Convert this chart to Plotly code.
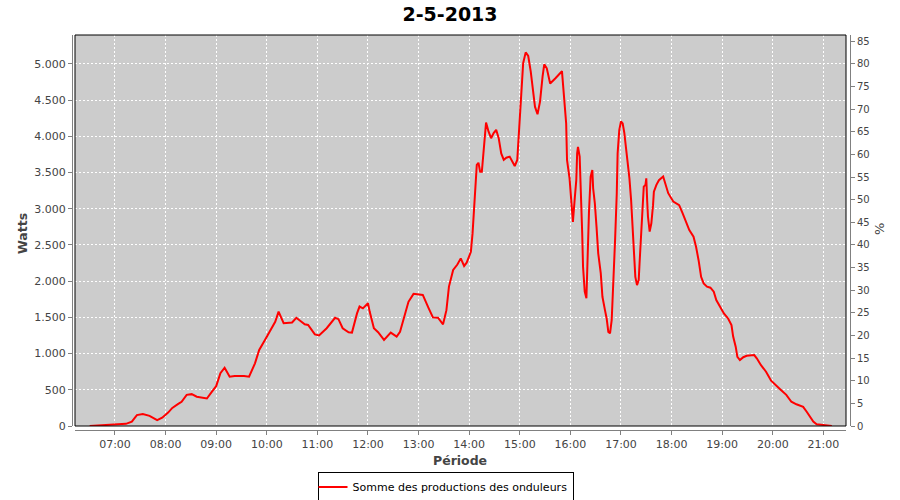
import plotly.graph_objects as go

DAY = "2013-05-02"
times = ["06:30", "06:56", "07:13", "07:20", "07:26", "07:33", "07:41", "07:50", "07:56", "08:03",
         "08:08", "08:15", "08:19", "08:25", "08:31", "08:37", "08:49", "08:55", "09:00", "09:05",
         "09:10", "09:16", "09:22", "09:33", "09:39", "09:46", "09:51", "09:58", "10:04", "10:10",
         "10:14", "10:20", "10:30", "10:35", "10:45", "10:49", "10:57", "11:02", "11:11", "11:21",
         "11:25", "11:30", "11:37", "11:41", "11:47", "11:50", "11:54", "12:00", "12:02", "12:07",
         "12:12", "12:19", "12:27", "12:34", "12:38", "12:43", "12:48", "12:54", "13:01", "13:05",
         "13:12", "13:17", "13:23", "13:29", "13:33", "13:36", "13:41", "13:46", "13:50", "13:54",
         "13:57", "14:02", "14:04", "14:07", "14:09", "14:11", "14:13", "14:15", "14:17", "14:20",
         "14:23", "14:26", "14:29", "14:32", "14:35", "14:38", "14:41", "14:44", "14:48", "14:52",
         "14:54", "14:57", "14:59", "15:01", "15:04", "15:07", "15:10", "15:13", "15:16", "15:18",
         "15:21", "15:24", "15:27", "15:29", "15:32", "15:36", "15:42", "15:47", "15:50", "15:55",
         "15:56", "15:59", "16:01", "16:02", "16:03", "16:05", "16:07", "16:08", "16:09", "16:11",
         "16:12", "16:14", "16:15", "16:17", "16:19", "16:20", "16:22", "16:24", "16:26", "16:27",
         "16:29", "16:31", "16:33", "16:36", "16:38", "16:41", "16:43", "16:45", "16:47", "16:49",
         "16:51", "16:53", "16:55", "16:56", "16:58", "17:00", "17:02", "17:04", "17:06", "17:08",
         "17:10", "17:12", "17:14", "17:16", "17:17", "17:19", "17:21", "17:22", "17:24", "17:26",
         "17:27", "17:29", "17:30", "17:31", "17:32", "17:34", "17:36", "17:38", "17:39", "17:42",
         "17:45", "17:50", "17:56", "18:02", "18:09", "18:13", "18:17", "18:21", "18:26", "18:29",
         "18:32", "18:35", "18:38", "18:42", "18:46", "18:50", "18:53", "18:57", "19:02", "19:07",
         "19:11", "19:13", "19:16", "19:18", "19:21", "19:25", "19:29", "19:38", "19:41", "19:46",
         "19:52", "19:58", "20:04", "20:09", "20:16", "20:22", "20:28", "20:36", "20:40", "20:44",
         "20:48", "20:52", "21:00", "21:09", "21:10"]
watts = [0, 15, 30, 60, 150, 165, 140, 80, 115, 185,
         250, 305, 335, 430, 440, 405, 380, 475, 550, 730,
         805, 680, 690, 690, 680, 865, 1050, 1190, 1325, 1440,
         1580, 1420, 1430, 1495, 1405, 1395, 1265, 1250, 1350, 1495,
         1475, 1350, 1295, 1290, 1555, 1650, 1625, 1695, 1580, 1350,
         1295, 1190, 1290, 1235, 1300, 1510, 1715, 1825, 1810, 1810,
         1625, 1500, 1495, 1405, 1600, 1925, 2155, 2230, 2315, 2210,
         2255, 2405, 2660, 3305, 3605, 3635, 3510, 3510, 3765, 4190,
         4065, 3975, 4045, 4090, 3975, 3765, 3675, 3705, 3720, 3620,
         3590, 3675, 4020, 4480, 5010, 5160, 5110, 4895, 4640, 4410,
         4305, 4480, 4825, 4995, 4940, 4730, 4800, 4870, 4900, 4180,
         3675, 3420, 3120, 2845, 2820, 3120, 3395, 3765, 3855, 3720,
         3445, 2660, 2200, 1855, 1765, 2200, 2940, 3445, 3535, 3280,
         3075, 2750, 2385, 2110, 1785, 1600, 1485, 1300, 1280, 1465,
         1925, 2570, 3215, 3765, 4090, 4205, 4180, 4045, 3835, 3630,
         3420, 3120, 2750, 2340, 2060, 1945, 2015, 2245, 2660, 2985,
         3305, 3330, 3420, 3120, 2890, 2685, 2800, 3050, 3235, 3330,
         3395, 3445, 3215, 3100, 3050, 2940, 2820, 2705, 2615, 2475,
         2290, 2060, 1970, 1925, 1910, 1855, 1740, 1650, 1555, 1485,
         1395, 1235, 1095, 955, 910, 950, 970, 980, 935, 840,
         750, 625, 565, 505, 430, 335, 300, 265, 200, 130,
         60, 25, 15, 5, 0]

title_text = "2-5-2013"
series_name = "Somme des productions des onduleurs"
left_title = "Watts"
right_title = "%"
x_title = "Période"
left_ticks = [0, 500, 1000, 1500, 2000, 2500, 3000, 3500, 4000, 4500, 5000]
left_tick_labels = ["0", "500", "1.000", "1.500", "2.000", "2.500", "3.000", "3.500", "4.000", "4.500", "5.000"]
right_ticks = list(range(0, 90, 5))
hour_ticks = ["%02d:00" % h for h in range(7, 22)]

W_MAX = 5400
W_PER_PCT = 62.5

x = [DAY + " " + t for t in times]

FONT = "DejaVu Sans"
TXT = "#444444"
AXC = "#808080"
GRID_DASH = "2px,2px"

fig = go.Figure()
fig.add_trace(go.Scatter(x=x, y=watts, mode="lines", name=series_name,
                         line=dict(color="#FF0000", width=2), showlegend=True))
# invisible trace for the right axis
fig.add_trace(go.Scatter(x=[x[0]], y=[0], yaxis="y2", mode="lines", showlegend=False,
                         line=dict(color="rgba(0,0,0,0)"), hoverinfo="skip"))

x0, x1 = 75 / 900, 846 / 900
y0, y1 = 74 / 500, 465 / 500

fig.update_layout(
    width=900, height=500,
    margin=dict(l=0, r=0, t=0, b=0, autoexpand=False),
    paper_bgcolor="white", plot_bgcolor="#CCCCCC",
    font=dict(family=FONT, size=11, color=TXT),
    title=dict(text="<b>" + title_text + "</b>", x=0.5, xanchor="center", y=1 - 14 / 500,
               yanchor="middle", font=dict(family=FONT, size=19, color="black")),
    xaxis=dict(domain=[x0, x1], anchor="free", position=70 / 500, type="date", automargin=False,
               range=[DAY + " 06:12:36", DAY + " 21:26:48"],
               tickmode="array", tickvals=[DAY + " " + h for h in hour_ticks], ticktext=hour_ticks,
               ticks="outside", ticklen=4, tickcolor=AXC, showline=True, linecolor=AXC, linewidth=1,
               showgrid=True, gridcolor="white", griddash=GRID_DASH, gridwidth=1, zeroline=False,
               tickfont=dict(family=FONT, size=11, color=TXT)),
    yaxis=dict(domain=[y0, y1], anchor="free", position=72 / 900, range=[0, W_MAX], automargin=False,
               tickmode="array", tickvals=left_ticks, ticktext=left_tick_labels,
               ticks="outside", ticklen=4, tickcolor=AXC, showline=True, linecolor=AXC, linewidth=1,
               showgrid=True, gridcolor="white", griddash=GRID_DASH, gridwidth=1, zeroline=False,
               tickfont=dict(family=FONT, size=11, color=TXT)),
    yaxis2=dict(overlaying="y", side="right", anchor="free", position=850 / 900, automargin=False,
                range=[0, W_MAX / W_PER_PCT], tickmode="array", tickvals=right_ticks,
                ticks="outside", ticklen=4, tickcolor=AXC, showline=True, linecolor=AXC, linewidth=1,
                showgrid=False, zeroline=False,
                tickfont=dict(family=FONT, size=10, color=TXT)),
    legend=dict(orientation="h", x=0.495, xanchor="center", y=1 - 487 / 500, yanchor="middle",
                bordercolor="black", borderwidth=1, bgcolor="white",
                font=dict(family=FONT, size=11, color="black"),
                itemwidth=30, tracegroupgap=0, indentation=-6),
    shapes=[dict(type="rect", xref="paper", yref="paper", x0=x0, x1=x1, y0=y0, y1=y1,
                 line=dict(color="black", width=1), fillcolor="rgba(0,0,0,0)", layer="above")],
    annotations=[
        dict(text="<b>" + left_title + "</b>", xref="paper", yref="paper", x=22 / 900, y=1 - 234 / 500,
             textangle=-90, showarrow=False, font=dict(family=FONT, size=12.5, color=TXT),
             xanchor="center", yanchor="middle"),
        dict(text="<b>" + x_title + "</b>", xref="paper", yref="paper", x=460 / 900, y=1 - 460 / 500,
             showarrow=False, font=dict(family=FONT, size=12.5, color=TXT),
             xanchor="center", yanchor="middle"),
        dict(text=right_title, xref="paper", yref="paper", x=880 / 900, y=1 - 229 / 500,
             textangle=-90, showarrow=False, font=dict(family=FONT, size=13, color=TXT),
             xanchor="center", yanchor="middle"),
    ],
)

fig.write_html("out.html", config={"displayModeBar": False},
               post_script="document.body.style.margin='0';document.body.style.overflow='hidden';")
